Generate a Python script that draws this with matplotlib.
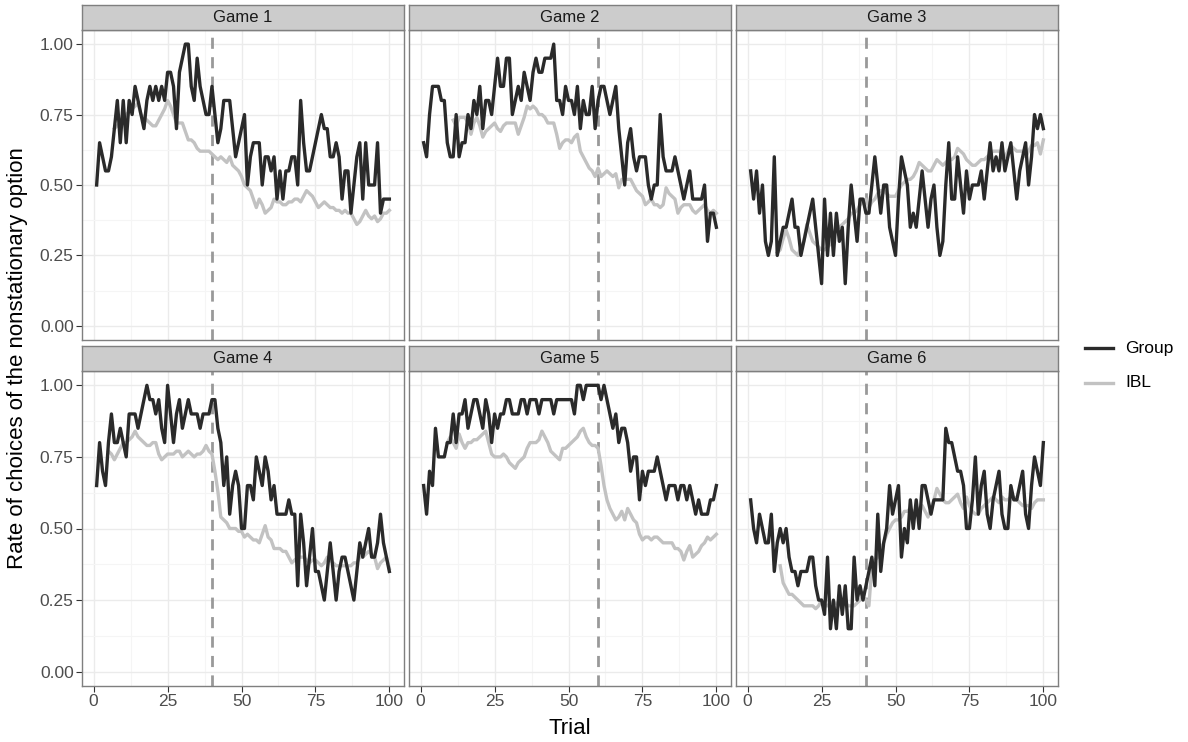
import matplotlib.pyplot as plt
import numpy as np

plt.rcParams['font.family'] = ['Liberation Sans', 'DejaVu Sans']

nan = np.nan
trials = np.arange(1, 101)
games = ['Game 1', 'Game 2', 'Game 3', 'Game 4', 'Game 5', 'Game 6']
change_trial = [40, 60, 40, 40, 60, 40]

group_g1 = [0.50, 0.65, 0.60, 0.55, 0.55, 0.60, 0.70, 0.80, 0.65, 0.80,
            0.65, 0.80, 0.75, 0.85, 0.80, 0.75, 0.70, 0.80, 0.85, 0.80,
            0.85, 0.80, 0.85, 0.80, 0.90, 0.90, 0.85, 0.70, 0.90, 0.95,
            1.00, 1.00, 0.85, 0.80, 0.95, 0.85, 0.80, 0.75, 0.75, 0.85,
            0.75, 0.65, 0.70, 0.80, 0.80, 0.80, 0.70, 0.60, 0.65, 0.70,
            0.75, 0.50, 0.60, 0.65, 0.65, 0.65, 0.50, 0.60, 0.60, 0.55,
            0.60, 0.45, 0.55, 0.45, 0.55, 0.55, 0.60, 0.60, 0.50, 0.80,
            0.65, 0.55, 0.55, 0.60, 0.65, 0.70, 0.75, 0.70, 0.70, 0.60,
            0.60, 0.65, 0.60, 0.45, 0.55, 0.55, 0.40, 0.50, 0.60, 0.65,
            0.45, 0.65, 0.50, 0.50, 0.50, 0.65, 0.40, 0.45, 0.45, 0.45]
ibl_g1 = [nan, nan, nan, nan, nan, nan, 0.70, 0.71, 0.72, 0.73,
          0.75, 0.76, 0.77, 0.78, 0.79, 0.75, 0.74, 0.73, 0.72, 0.71,
          0.71, 0.73, 0.75, 0.77, 0.80, 0.78, 0.75, 0.72, 0.72, 0.72,
          0.69, 0.66, 0.66, 0.65, 0.63, 0.62, 0.62, 0.62, 0.62, 0.61,
          0.60, 0.59, 0.60, 0.59, 0.58, 0.60, 0.57, 0.56, 0.55, 0.53,
          0.50, 0.49, 0.48, 0.45, 0.42, 0.45, 0.43, 0.40, 0.41, 0.42,
          0.45, 0.44, 0.44, 0.43, 0.43, 0.44, 0.44, 0.45, 0.45, 0.44,
          0.46, 0.48, 0.47, 0.46, 0.44, 0.42, 0.43, 0.44, 0.43, 0.42,
          0.42, 0.41, 0.41, 0.40, 0.41, 0.40, 0.40, 0.38, 0.36, 0.37,
          0.39, 0.41, 0.39, 0.38, 0.39, 0.37, 0.38, 0.40, 0.40, 0.41]

group_g2 = [0.65, 0.60, 0.75, 0.85, 0.85, 0.85, 0.80, 0.80, 0.65, 0.60,
            0.60, 0.75, 0.60, 0.65, 0.65, 0.75, 0.70, 0.80, 0.75, 0.85,
            0.70, 0.80, 0.80, 0.75, 0.85, 0.95, 0.85, 0.85, 0.95, 0.95,
            0.75, 0.80, 0.85, 0.80, 0.90, 0.85, 0.80, 0.90, 0.95, 0.90,
            0.90, 0.95, 0.95, 0.95, 1.00, 0.80, 0.80, 0.75, 0.85, 0.80,
            0.80, 0.75, 0.85, 0.70, 0.80, 0.75, 0.75, 0.85, 0.70, 0.80,
            0.85, 0.85, 0.80, 0.75, 0.80, 0.85, 0.70, 0.60, 0.50, 0.65,
            0.70, 0.60, 0.55, 0.60, 0.60, 0.60, 0.50, 0.45, 0.50, 0.50,
            0.75, 0.60, 0.55, 0.55, 0.55, 0.60, 0.55, 0.50, 0.45, 0.50,
            0.55, 0.45, 0.45, 0.45, 0.45, 0.50, 0.30, 0.40, 0.40, 0.35]
ibl_g2 = [nan, nan, nan, nan, nan, nan, nan, nan, nan, nan,
          0.73, 0.71, 0.74, 0.74, 0.74, 0.72, 0.68, 0.72, 0.74, 0.71,
          0.67, 0.69, 0.70, 0.71, 0.72, 0.70, 0.69, 0.71, 0.72, 0.72,
          0.72, 0.72, 0.68, 0.71, 0.74, 0.78, 0.77, 0.78, 0.77, 0.75,
          0.75, 0.74, 0.72, 0.72, 0.72, 0.68, 0.63, 0.65, 0.66, 0.66,
          0.65, 0.67, 0.68, 0.62, 0.60, 0.58, 0.56, 0.55, 0.53, 0.56,
          0.53, 0.54, 0.55, 0.54, 0.53, 0.54, 0.49, 0.52, 0.52, 0.52,
          0.52, 0.50, 0.48, 0.47, 0.46, 0.43, 0.44, 0.45, 0.43, 0.43,
          0.42, 0.43, 0.49, 0.47, 0.46, 0.45, 0.40, 0.42, 0.43, 0.43,
          0.43, 0.41, 0.40, 0.41, 0.42, 0.43, 0.41, 0.40, 0.41, 0.40]

group_g3 = [0.55, 0.45, 0.55, 0.40, 0.50, 0.30, 0.25, 0.30, 0.60, 0.25,
            0.30, 0.35, 0.35, 0.40, 0.45, 0.35, 0.35, 0.25, 0.30, 0.35,
            0.40, 0.45, 0.35, 0.25, 0.15, 0.45, 0.25, 0.40, 0.25, 0.40,
            0.30, 0.35, 0.15, 0.35, 0.50, 0.40, 0.30, 0.45, 0.45, 0.40,
            0.40, 0.50, 0.60, 0.50, 0.40, 0.50, 0.50, 0.35, 0.30, 0.25,
            0.45, 0.60, 0.55, 0.50, 0.35, 0.40, 0.35, 0.45, 0.55, 0.45,
            0.35, 0.45, 0.50, 0.35, 0.25, 0.30, 0.50, 0.65, 0.45, 0.45,
            0.60, 0.50, 0.40, 0.55, 0.45, 0.50, 0.50, 0.50, 0.55, 0.45,
            0.55, 0.65, 0.55, 0.60, 0.55, 0.65, 0.55, 0.60, 0.65, 0.55,
            0.45, 0.55, 0.60, 0.65, 0.50, 0.60, 0.75, 0.70, 0.75, 0.70]
ibl_g3 = [nan, nan, nan, nan, nan, nan, nan, nan, nan, 0.26,
          0.27, 0.31, 0.34, 0.31, 0.27, 0.26, 0.25, 0.28, 0.30, 0.36,
          0.33, 0.30, 0.29, 0.28, 0.27, 0.27, 0.28, 0.29, 0.32, 0.35,
          0.35, 0.36, 0.37, 0.38, 0.40, 0.40, 0.41, 0.43, 0.44, 0.45,
          0.42, 0.44, 0.45, 0.47, 0.48, 0.48, 0.47, 0.46, 0.46, 0.46,
          0.48, 0.50, 0.51, 0.52, 0.52, 0.53, 0.55, 0.58, 0.57, 0.56,
          0.55, 0.55, 0.57, 0.59, 0.58, 0.57, 0.58, 0.59, 0.59, 0.60,
          0.63, 0.62, 0.61, 0.59, 0.58, 0.57, 0.57, 0.58, 0.59, 0.59,
          0.60, 0.61, 0.62, 0.62, 0.62, 0.61, 0.60, 0.62, 0.64, 0.63,
          0.62, 0.62, 0.62, 0.60, 0.62, 0.64, 0.64, 0.65, 0.61, 0.66]

group_g4 = [0.65, 0.80, 0.70, 0.65, 0.80, 0.90, 0.80, 0.80, 0.85, 0.80,
            0.75, 0.90, 0.90, 0.90, 0.85, 0.90, 0.95, 1.00, 0.95, 0.95,
            0.90, 0.95, 0.85, 0.80, 1.00, 0.90, 0.80, 0.90, 0.95, 0.85,
            0.90, 0.95, 0.90, 0.90, 0.90, 0.85, 0.90, 0.90, 0.90, 0.95,
            0.95, 0.85, 0.80, 0.65, 0.75, 0.55, 0.65, 0.70, 0.65, 0.50,
            0.50, 0.65, 0.65, 0.60, 0.75, 0.70, 0.65, 0.75, 0.70, 0.60,
            0.65, 0.55, 0.55, 0.55, 0.55, 0.60, 0.55, 0.55, 0.30, 0.55,
            0.45, 0.30, 0.40, 0.50, 0.35, 0.35, 0.30, 0.25, 0.35, 0.45,
            0.35, 0.25, 0.35, 0.40, 0.40, 0.35, 0.30, 0.25, 0.35, 0.45,
            0.40, 0.45, 0.50, 0.40, 0.40, 0.45, 0.55, 0.45, 0.40, 0.35]
ibl_g4 = [nan, nan, nan, nan, 0.77, 0.76, 0.74, 0.76, 0.78, 0.80,
          0.80, 0.81, 0.82, 0.84, 0.82, 0.81, 0.80, 0.79, 0.79, 0.80,
          0.80, 0.76, 0.74, 0.75, 0.76, 0.76, 0.76, 0.77, 0.77, 0.75,
          0.76, 0.77, 0.76, 0.75, 0.76, 0.76, 0.77, 0.79, 0.77, 0.76,
          0.70, 0.63, 0.54, 0.53, 0.52, 0.50, 0.50, 0.50, 0.49, 0.49,
          0.47, 0.48, 0.47, 0.46, 0.46, 0.45, 0.48, 0.51, 0.47, 0.46,
          0.43, 0.43, 0.43, 0.42, 0.42, 0.40, 0.38, 0.39, 0.40, 0.40,
          0.40, 0.39, 0.38, 0.39, 0.39, 0.38, 0.37, 0.38, 0.40, 0.39,
          0.38, 0.37, 0.37, 0.37, 0.37, 0.37, 0.37, 0.38, 0.38, 0.40,
          0.40, 0.41, 0.42, 0.41, 0.40, 0.36, 0.38, 0.39, 0.40, 0.36]

group_g5 = [0.65, 0.55, 0.70, 0.65, 0.85, 0.75, 0.75, 0.75, 0.80, 0.80,
            0.90, 0.80, 0.90, 0.90, 0.95, 0.85, 0.90, 0.95, 0.95, 0.90,
            0.85, 0.95, 0.90, 0.80, 0.90, 0.85, 0.90, 0.90, 0.95, 0.95,
            0.90, 0.90, 0.90, 0.95, 0.95, 0.90, 0.95, 0.95, 0.95, 0.90,
            0.95, 0.95, 0.95, 0.95, 0.90, 0.95, 0.95, 0.95, 0.95, 0.95,
            0.95, 0.90, 1.00, 1.00, 0.95, 1.00, 1.00, 1.00, 1.00, 1.00,
            0.95, 1.00, 0.95, 0.90, 0.85, 0.90, 0.80, 0.85, 0.85, 0.80,
            0.70, 0.75, 0.75, 0.60, 0.70, 0.65, 0.70, 0.70, 0.70, 0.75,
            0.70, 0.65, 0.60, 0.65, 0.65, 0.65, 0.60, 0.65, 0.65, 0.60,
            0.65, 0.60, 0.55, 0.60, 0.55, 0.55, 0.55, 0.60, 0.60, 0.65]
ibl_g5 = [nan, nan, nan, nan, nan, nan, nan, nan, 0.80, 0.82,
          0.80, 0.78, 0.83, 0.80, 0.78, 0.80, 0.80, 0.81, 0.81, 0.82,
          0.83, 0.84, 0.80, 0.76, 0.75, 0.75, 0.75, 0.76, 0.75, 0.73,
          0.72, 0.71, 0.73, 0.74, 0.75, 0.78, 0.80, 0.80, 0.80, 0.81,
          0.84, 0.82, 0.80, 0.77, 0.76, 0.75, 0.74, 0.78, 0.78, 0.79,
          0.80, 0.81, 0.82, 0.84, 0.85, 0.82, 0.80, 0.79, 0.79, 0.78,
          0.72, 0.65, 0.60, 0.57, 0.55, 0.53, 0.54, 0.56, 0.53, 0.57,
          0.55, 0.53, 0.52, 0.48, 0.46, 0.47, 0.47, 0.46, 0.47, 0.47,
          0.46, 0.45, 0.45, 0.45, 0.45, 0.43, 0.43, 0.42, 0.39, 0.42,
          0.44, 0.40, 0.41, 0.42, 0.44, 0.45, 0.47, 0.46, 0.47, 0.48]

group_g6 = [0.60, 0.50, 0.45, 0.55, 0.50, 0.45, 0.45, 0.55, 0.35, 0.45,
            0.50, 0.45, 0.50, 0.40, 0.35, 0.35, 0.30, 0.35, 0.35, 0.35,
            0.40, 0.40, 0.30, 0.25, 0.25, 0.20, 0.40, 0.15, 0.25, 0.15,
            0.30, 0.20, 0.30, 0.15, 0.15, 0.40, 0.25, 0.30, 0.25, 0.30,
            0.35, 0.40, 0.30, 0.55, 0.35, 0.45, 0.50, 0.65, 0.55, 0.60,
            0.65, 0.40, 0.50, 0.45, 0.60, 0.50, 0.60, 0.50, 0.65, 0.65,
            0.60, 0.55, 0.60, 0.60, 0.60, 0.60, 0.85, 0.80, 0.80, 0.75,
            0.70, 0.70, 0.65, 0.50, 0.50, 0.60, 0.75, 0.55, 0.65, 0.70,
            0.55, 0.50, 0.60, 0.65, 0.70, 0.55, 0.50, 0.50, 0.65, 0.60,
            0.60, 0.65, 0.70, 0.55, 0.50, 0.65, 0.75, 0.70, 0.65, 0.80]
ibl_g6 = [nan, nan, nan, nan, nan, nan, nan, nan, nan, nan,
          0.37, 0.31, 0.29, 0.27, 0.27, 0.26, 0.25, 0.24, 0.23, 0.23,
          0.23, 0.23, 0.22, 0.23, 0.25, 0.23, 0.23, 0.24, 0.24, 0.24,
          0.23, 0.25, 0.24, 0.23, 0.23, 0.23, 0.24, 0.25, 0.26, 0.25,
          0.23, 0.37, 0.39, 0.40, 0.43, 0.45, 0.48, 0.50, 0.52, 0.53,
          0.53, 0.54, 0.56, 0.56, 0.57, 0.56, 0.55, 0.57, 0.58, 0.56,
          0.54, 0.57, 0.60, 0.64, 0.62, 0.60, 0.59, 0.59, 0.60, 0.61,
          0.62, 0.59, 0.57, 0.61, 0.58, 0.56, 0.55, 0.55, 0.57, 0.58,
          0.59, 0.60, 0.61, 0.60, 0.59, 0.61, 0.60, 0.60, 0.61, 0.61,
          0.60, 0.59, 0.58, 0.58, 0.58, 0.57, 0.59, 0.60, 0.60, 0.60]

group_all = [group_g1, group_g2, group_g3, group_g4, group_g5, group_g6]
ibl_all = [ibl_g1, ibl_g2, ibl_g3, ibl_g4, ibl_g5, ibl_g6]

W, H = 1188, 742
fig = plt.figure(figsize=(W / 100, H / 100), dpi=100)

col_left = [82, 409, 736]
panel_w = 322
rows = [(30, 340), (371, 686)]   # panel top, bottom in pixels
strip_h = 25

border = '#7f7f7f'
for i, name in enumerate(games):
    r, c = divmod(i, 3)
    top, bot = rows[r]
    x0 = col_left[c]
    ax = fig.add_axes([x0 / W, 1 - bot / H, panel_w / W, (bot - top) / H])
    sax = fig.add_axes([x0 / W, 1 - top / H, panel_w / W, strip_h / H])

    ax.plot(trials, ibl_all[i], color='#c2c2c2', lw=2.4, zorder=3)
    ax.plot(trials, group_all[i], color='#2a2a2a', lw=2.4, zorder=4)
    ax.axvline(change_trial[i], color='#999999', lw=2, ls=(0, (4, 3)), zorder=2)

    ax.set_xlim(-3.95, 104.95)
    ax.set_ylim(-0.05, 1.05)
    ax.set_xticks([0, 25, 50, 75, 100])
    ax.set_yticks([0, 0.25, 0.5, 0.75, 1.0])
    ax.set_xticks([12.5, 37.5, 62.5, 87.5], minor=True)
    ax.set_yticks([0.125, 0.375, 0.625, 0.875], minor=True)
    ax.grid(which='major', color='#ebebeb', lw=1.0)
    ax.grid(which='minor', color='#f5f5f5', lw=0.8)
    ax.set_axisbelow(True)
    ax.tick_params(which='minor', length=0)
    ax.tick_params(which='major', length=4, color='#333333', labelsize=12.5,
                   labelcolor='#4d4d4d', pad=2)
    for s in ax.spines.values():
        s.set_color(border)
        s.set_linewidth(1.0)

    if c == 0:
        ax.set_yticklabels(['0.00', '0.25', '0.50', '0.75', '1.00'])
    else:
        ax.tick_params(axis='y', which='major', length=0, labelleft=False)
    if r == 0:
        ax.tick_params(axis='x', which='major', length=0, labelbottom=False)

    sax.set_facecolor('#cccccc')
    sax.set_xticks([])
    sax.set_yticks([])
    for s in sax.spines.values():
        s.set_color(border)
        s.set_linewidth(1.0)
    sax.text(0.5, 0.5, name, ha='center', va='center', fontsize=12,
             color='#1a1a1a', transform=sax.transAxes)

fig.text(570 / W, 1 - 729 / H, 'Trial', ha='center', va='center', fontsize=16)
fig.text(18 / W, 1 - 358 / H, 'Rate of choices of the nonstationary option',
         ha='center', va='center', rotation=90, fontsize=16)

# legend
leg_ax = fig.add_axes([1080 / W, 1 - 400 / H, 100 / W, 70 / H])
leg_ax.axis('off')
leg_ax.set_xlim(0, 100)
leg_ax.set_ylim(0, 70)
leg_ax.plot([5, 33], [52, 52], color='#2a2a2a', lw=2.4)
leg_ax.plot([5, 33], [17, 17], color='#c2c2c2', lw=2.4)
leg_ax.text(45, 52, 'Group', va='center', ha='left', fontsize=12.5)
leg_ax.text(45, 17, 'IBL', va='center', ha='left', fontsize=12.5)

fig.savefig('out.png', dpi=100)
